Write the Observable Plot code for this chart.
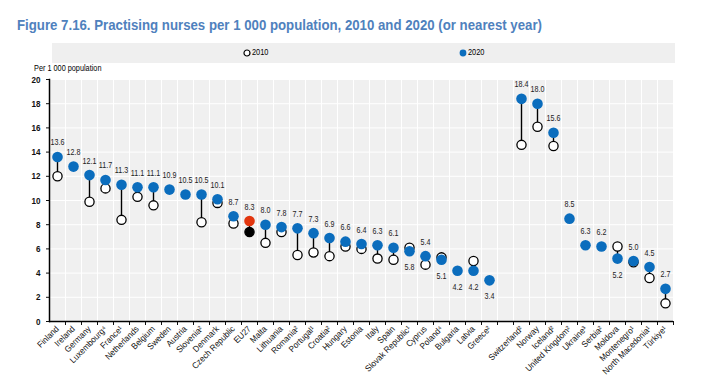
<!DOCTYPE html>
<html><head><meta charset="utf-8">
<script src="https://cdn.jsdelivr.net/npm/d3@7"></script>
<script src="https://cdn.jsdelivr.net/npm/@observablehq/plot@0.6"></script>
<style>
body{margin:0;background:#fff;width:703px;height:378px;position:relative;overflow:hidden;font-family:"Liberation Sans",Arial,sans-serif;}
#title{position:absolute;left:17px;top:16px;font-size:15.5px;line-height:1.15;font-weight:bold;color:#4f81bd;white-space:nowrap;transform-origin:left top;}
#legend{position:absolute;left:52px;top:43px;width:623px;height:19.5px;background:#efefef;font-size:9px;color:#000;}
.li{position:absolute;top:5px;height:10px;white-space:nowrap;}
.li svg{position:absolute;left:0;top:1px;}
.li span{position:absolute;left:9px;top:-1px;display:inline-block;transform:scaleX(0.82);transform-origin:left center;}
#ylab{position:absolute;left:34px;top:63px;font-size:8.5px;color:#000;white-space:nowrap;transform:scaleX(0.86);transform-origin:left top;}
#chart{position:absolute;left:0;top:64px;}
</style></head>
<body>
<div id="title">Figure 7.16. Practising nurses per 1 000 population, 2010 and 2020 (or nearest year)</div>
<div id="legend">
 <div class="li" style="left:191px"><svg width="8" height="8"><circle cx="4" cy="4" r="3" fill="#fff" stroke="#000" stroke-width="1.2"/></svg><span>2010</span></div>
 <div class="li" style="left:407px"><svg width="8" height="8"><circle cx="4" cy="4" r="3.4" fill="#0b6dbd"/></svg><span>2020</span></div>
</div>
<div id="ylab">Per 1 000 population</div>
<div id="chart"></div>
<script>
const countries = ["Finland","Ireland","Germany","Luxembourg⁴","France¹","Netherlands","Belgium","Sweden","Austria","Slovenia²","Denmark","Czech Republic","EU27","Malta","Lithuania","Romania²","Portugal¹","Croatia²","Hungary","Estonia","Italy","Spain","Slovak Republic¹","Cyprus","Poland⁴","Bulgaria","Latvia","Greece²",
  "Switzerland²","Norway","Iceland²","United Kingdom²","Ukraine³","Serbia²","Moldova","Montenegro¹","North Macedonia¹","Türkiye¹"];
const values2020 = [13.6,12.8,12.1,11.7,11.3,11.1,11.1,10.9,10.5,10.5,10.1,8.7,8.3,8.0,7.8,7.7,7.3,6.9,6.6,6.4,6.3,6.1,5.8,5.4,5.1,4.2,4.2,3.4,
  18.4,18.0,15.6,8.5,6.3,6.2,5.2,5.0,4.5,2.7];
const values2010 = [12.0,null,9.9,11.0,8.4,10.3,9.6,null,null,8.2,9.8,8.1,7.4,6.5,7.4,5.5,5.7,5.4,6.2,6.0,5.2,5.1,6.1,4.7,5.3,null,5.0,null,
  14.6,16.1,14.5,null,null,null,6.2,4.9,3.6,1.5];
const labelsBelow = ["Slovak Republic¹","Poland⁴","Bulgaria","Latvia","Greece²","Moldova"];
const gapAfter = "Greece²";
const yTicks = [0,2,4,6,8,10,12,14,16,18,20];

const data = countries.map((c,i)=>({country:c, v2020:values2020[i], v2010:values2010[i], eu:c==="EU27", below:labelsBelow.includes(c)}));
const domain = [];
countries.forEach(c=>{domain.push(c); if(c===gapAfter) domain.push(" ");});
const blue="#0b6dbd", red="#e2360f";
const font = `"Liberation Sans",Arial,sans-serif`;

const chart = Plot.plot({
  width:703, height:314,
  marginLeft:49, marginRight:30, marginTop:15, marginBottom:57,
  style:{fontFamily:font, fontSize:"9px", color:"#111", background:"transparent", overflow:"visible"},
  x:{domain, padding:0, type:"band"},
  y:{domain:[0,20]},
  marks:[
    Plot.frame({fill:"#f0f0f0", stroke:null}),
    Plot.gridY(yTicks,{stroke:"#fff", strokeOpacity:1, strokeWidth:1}),
    Plot.gridX(domain,{stroke:"#fff", strokeOpacity:1, strokeWidth:1, dx:8}),
    Plot.axisY({ticks:yTicks, tickSize:3, tickPadding:6, label:null, fontWeight:"bold", fontSize:9.5}),
    Plot.axisX({tickSize:0, tickPadding:6, tickRotate:-45, label:null, tickFormat:d=>d.trim(), fontSize:8.7}),
    Plot.axisX({tickSize:4, tickFormat:()=>"", label:null, dx:8}),
    Plot.ruleY([0],{stroke:"#000", strokeWidth:1.5}),
    Plot.frame({anchor:"left", stroke:"#000", strokeWidth:1.5}),
    Plot.ruleX(data.filter(d=>d.v2010!=null),{x:"country", y1:"v2010", y2:"v2020", stroke:"#000", strokeWidth:1.4}),
    Plot.dot(data.filter(d=>d.v2010!=null),{x:"country", y:"v2010", r:4.6, fill:d=>d.eu?"#000":"#fff", stroke:"#000", strokeWidth:1.3}),
    Plot.dot(data,{x:"country", y:"v2020", r:5.3, fill:d=>d.eu?red:blue, stroke:null}),
    Plot.text(data.filter(d=>!d.below),{x:"country", y:"v2020", text:d=>d.v2020.toFixed(1), dy:-14.5, fill:"#222", fontSize:9.5}),
    Plot.text(data.filter(d=>d.below),{x:"country", y:"v2020", text:d=>d.v2020.toFixed(1), dy:16, fill:"#222", fontSize:9.5})
  ]
});
document.getElementById("chart").appendChild(chart);

// condense glyphs to mimic the narrow typeface of the original
function condense(sel, k){
  chart.querySelectorAll(sel).forEach(t=>{
    const len = t.getComputedTextLength();
    if(len>0){ t.setAttribute("textLength", (len*k).toFixed(2)); t.setAttribute("lengthAdjust","spacingAndGlyphs"); }
  });
}
condense('g[aria-label="text"] text', 0.75);
condense('g[aria-label="x-axis tick label"] text', 0.93);
condense('g[aria-label="y-axis tick label"] text', 0.85);

const title = document.getElementById("title");
const w = title.getBoundingClientRect().width;
title.style.transform = `scaleX(${525/w})`;
</script>
</body></html>
